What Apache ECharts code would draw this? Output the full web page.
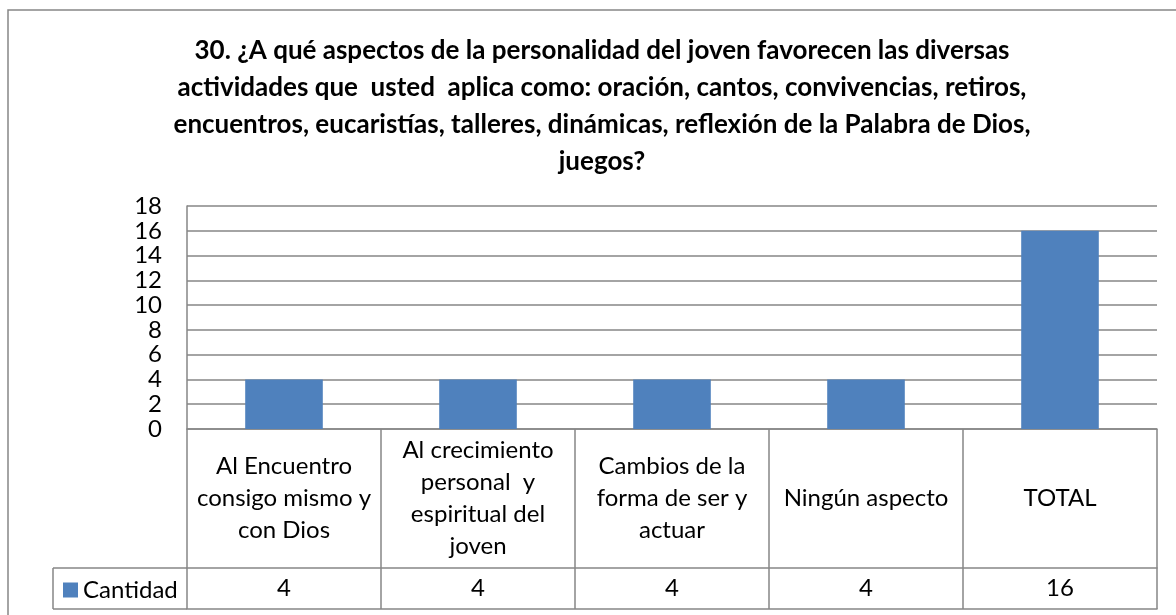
<!DOCTYPE html>
<html>
<head>
<meta charset="utf-8">
<script src="https://cdn.jsdelivr.net/npm/echarts@6/dist/echarts.min.js"></script>
<style>html,body{margin:0;padding:0;background:#fff;}#c{width:1176px;height:615px;}</style>
</head>
<body>
<div id="c"></div>
<script>
const titleLines = [
  "30. ¿A qué aspectos de la personalidad del joven favorecen las diversas",
  "actividades que  usted  aplica como: oración, cantos, convivencias, retiros,",
  "encuentros, eucaristías, talleres, dinámicas, reflexión de la Palabra de Dios,",
  "juegos?"
];
const categories = [
  "Al Encuentro\nconsigo mismo y\ncon Dios",
  "Al crecimiento\npersonal  y\nespiritual del\njoven",
  "Cambios de la\nforma de ser y\nactuar",
  "Ningún aspecto",
  "TOTAL"
];
const seriesName = "Cantidad";
const cantidad = [4, 4, 4, 4, 16];
const yTicks = { min: 0, max: 18, interval: 2 };

const FONT = "Lato";
const GRAY = "#868686";
const BLUE = "#4F81BD";

const chart = echarts.init(document.getElementById('c'), null, { renderer: 'canvas' });
chart.setOption({
  backgroundColor: '#fff',
  animation: false,
  title: {
    text: titleLines.join("\n"),
    left: 597,
    top: 27,
    textAlign: 'center',
    textStyle: { fontFamily: FONT, fontWeight: 'bold', fontSize: 26, lineHeight: 37, color: '#000' }
  },
  legend: {
    data: [seriesName],
    left: 63,
    top: 578,
    padding: 0,
    itemWidth: 15,
    itemHeight: 15,
    icon: 'rect',
    textStyle: { fontFamily: FONT, fontSize: 24, color: '#000' }
  },
  grid: { left: 187, top: 206, width: 970, height: 223, containLabel: false },
  xAxis: [
    {
      type: 'category',
      data: categories,
      position: 'bottom',
      axisLine: { show: true, lineStyle: { color: GRAY, width: 1.5 } },
      axisTick: { show: true, length: 180, interval: 0, lineStyle: { color: GRAY, width: 1.5 } },
      axisLabel: {
        interval: 0, margin: 69, verticalAlign: 'middle', align: 'center',
        fontFamily: FONT, fontSize: 24, lineHeight: 32, color: '#000'
      },
      splitLine: { show: false }
    },
    {
      type: 'category',
      data: cantidad.map(String),
      position: 'bottom',
      offset: 139,
      axisLine: { show: true, lineStyle: { color: GRAY, width: 1.5 } },
      axisTick: { show: false },
      axisLabel: {
        interval: 0, margin: 20, verticalAlign: 'middle', align: 'center',
        fontFamily: FONT, fontSize: 24, color: '#000'
      }
    },
    {
      type: 'category',
      data: categories,
      position: 'bottom',
      offset: 180,
      axisLine: { show: true, lineStyle: { color: GRAY, width: 1.5 } },
      axisTick: { show: false },
      axisLabel: { show: false }
    }
  ],
  yAxis: {
    type: 'value',
    min: yTicks.min, max: yTicks.max, interval: yTicks.interval,
    axisLine: { show: true, lineStyle: { color: GRAY, width: 1.5 } },
    axisTick: { show: false },
    axisLabel: { margin: 25, fontFamily: FONT, fontSize: 24, color: '#000' },
    splitLine: { show: true, lineStyle: { color: GRAY, width: 1.5 } }
  },
  series: [{
    name: seriesName,
    type: 'bar',
    data: cantidad,
    barWidth: '40%',
    itemStyle: { color: BLUE },
    xAxisIndex: 0
  }],
  graphic: [
    { type: 'rect', shape: { x: 8, y: 10, width: 1190, height: 640 }, style: { fill: null, stroke: GRAY, lineWidth: 1.5 }, silent: true, z: -1 },
    { type: 'line', shape: { x1: 53, y1: 568, x2: 187, y2: 568 }, style: { stroke: GRAY, lineWidth: 1.5 }, silent: true },
    { type: 'line', shape: { x1: 53, y1: 609, x2: 187, y2: 609 }, style: { stroke: GRAY, lineWidth: 1.5 }, silent: true },
    { type: 'line', shape: { x1: 53, y1: 568, x2: 53, y2: 609 }, style: { stroke: GRAY, lineWidth: 1.5 }, silent: true }
  ]
});
</script>
</body>
</html>
